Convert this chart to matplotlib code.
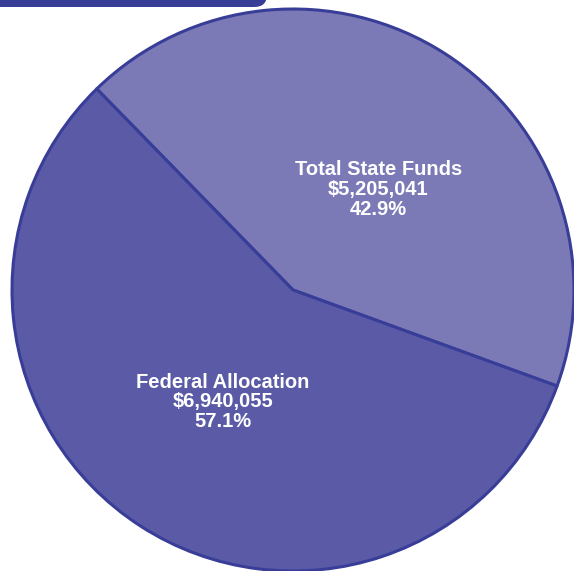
import numpy as np
import matplotlib.pyplot as plt
from matplotlib.patches import FancyBboxPatch

# data
categories = ['Total State Funds', 'Federal Allocation']
amounts = [5205041, 6940055]
slice_colors = ['#7b7ab7', '#5a5aa6']
edge_color = '#383d98'

total = sum(amounts)

fig = plt.figure(figsize=(5.74, 5.71), dpi=100)
ax = fig.add_axes([0, 0, 1, 1])

# pie centre sits at (293, 290) px, radius 281 px
cx, cy, r = 293.0, 290.0, 281.0
W, H = 574.0, 571.0

wedges, texts = ax.pie(
    amounts,
    colors=slice_colors,
    startangle=134.3,
    counterclock=False,
    wedgeprops=dict(edgecolor=edge_color, linewidth=2.2, joinstyle='round'),
)

# labels inside the slices (state label sits a bit right of its mid angle)
label_angle_shift = [-7.5, 0.8]
label_radius = 0.47
for i, w in enumerate(wedges):
    mid = (w.theta1 + w.theta2) / 2 + label_angle_shift[i]
    x = label_radius * np.cos(np.radians(mid))
    y = label_radius * np.sin(np.radians(mid))
    txt = '%s\n$%s\n%.1f%%' % (categories[i], format(amounts[i], ','), amounts[i] / total * 100)
    ax.text(x, y, txt, ha='center', va='center', color='white', fontsize=14.5,
            fontweight='bold', family=['Liberation Sans', 'DejaVu Sans'],
            linespacing=1.06)

ax.set_xlim(-cx / r, (W - cx) / r)
ax.set_ylim((cy - H) / r, cy / r)
ax.set_aspect('auto')
ax.axis('off')

# title banner cut off at the top left
banner = FancyBboxPatch((-cx / r - 0.2, (cy - 7) / r), 267 / r + 0.2, 0.2,
                        boxstyle='round,pad=0,rounding_size=0.045',
                        facecolor=edge_color, edgecolor='none', clip_on=False)
ax.add_patch(banner)

plt.savefig('out.png', dpi=100)
plt.close()
